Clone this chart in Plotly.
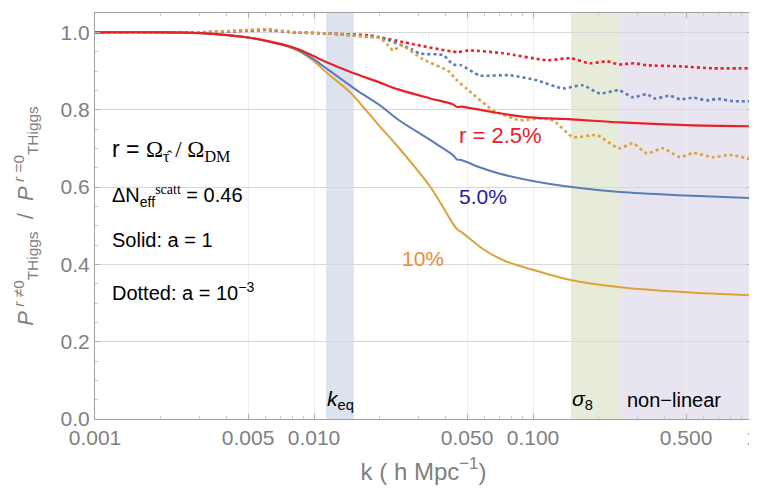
import numpy as np
import plotly.graph_objects as go

# ---------------- data ----------------
k_red = [0.001, 0.002, 0.003, 0.0051, 0.0061, 0.0075, 0.0086, 0.010, 0.0115, 0.0146, 0.020, 0.024, 0.034, 0.043, 0.045, 0.047, 0.068, 0.097, 0.15, 0.25, 0.5, 1.0]
red_solid = [1.0, 1.0, 0.998, 0.986, 0.978, 0.966, 0.955, 0.938, 0.922, 0.898, 0.870, 0.853, 0.829, 0.814, 0.807, 0.808, 0.792, 0.780, 0.775, 0.767, 0.760, 0.757]

k_blue = [0.001, 0.002, 0.003, 0.0051, 0.0061, 0.0075, 0.0086, 0.010, 0.0115, 0.0157, 0.020, 0.024, 0.034, 0.043, 0.045, 0.047, 0.057, 0.070, 0.097, 0.15, 0.25, 0.5, 1.0]
blue_solid = [1.0, 1.0, 0.998, 0.986, 0.977, 0.965, 0.952, 0.930, 0.905, 0.850, 0.811, 0.776, 0.721, 0.683, 0.671, 0.670, 0.651, 0.635, 0.617, 0.600, 0.587, 0.578, 0.571]

k_orange = [0.001, 0.002, 0.003, 0.0051, 0.0061, 0.0075, 0.0086, 0.010, 0.0115, 0.0146, 0.020, 0.024, 0.034, 0.043, 0.045, 0.047, 0.060, 0.075, 0.097, 0.15, 0.25, 0.5, 1.0]
orange_solid = [1.0, 1.0, 0.998, 0.986, 0.977, 0.964, 0.950, 0.925, 0.894, 0.845, 0.756, 0.706, 0.600, 0.506, 0.491, 0.484, 0.437, 0.408, 0.388, 0.359, 0.341, 0.328, 0.320]

k_red_dot = [0.001, 0.003, 0.005, 0.0061, 0.008, 0.0115, 0.018, 0.020, 0.0255, 0.028, 0.045, 0.051, 0.073, 0.116, 0.148, 0.182, 0.218, 0.247, 0.29, 0.33, 0.47, 0.66, 0.98]
red_dotted = [1.0, 1.0, 1.004, 1.006, 1.0, 0.997, 0.992, 0.987, 0.975, 0.970, 0.949, 0.953, 0.946, 0.928, 0.933, 0.920, 0.925, 0.917, 0.920, 0.915, 0.912, 0.907, 0.907]

k_blue_dot = [0.001, 0.003, 0.005, 0.0061, 0.008, 0.0115, 0.018, 0.020, 0.028, 0.0305, 0.039, 0.043, 0.047, 0.057, 0.0785, 0.104, 0.137, 0.169, 0.202, 0.247, 0.286, 0.33, 0.36, 0.42, 0.47, 0.54, 0.62, 0.70, 0.82, 0.98]
blue_dotted = [1.0, 1.0, 1.005, 1.007, 1.0, 0.997, 0.988, 0.987, 0.956, 0.945, 0.941, 0.917, 0.915, 0.889, 0.889, 0.876, 0.855, 0.863, 0.842, 0.850, 0.832, 0.840, 0.829, 0.836, 0.827, 0.831, 0.824, 0.828, 0.822, 0.822]

k_orange_dot = [0.001, 0.003, 0.005, 0.0061, 0.008, 0.0115, 0.018, 0.020, 0.0215, 0.023, 0.025, 0.0315, 0.041, 0.045, 0.050, 0.066, 0.087, 0.111, 0.125, 0.1523, 0.196, 0.247, 0.286, 0.331, 0.392, 0.469, 0.538, 0.664, 0.79, 0.98]
orange_dotted = [1.0, 1.0, 1.006, 1.008, 1.001, 0.997, 0.988, 0.985, 0.970, 0.953, 0.966, 0.930, 0.900, 0.876, 0.853, 0.798, 0.773, 0.778, 0.770, 0.729, 0.734, 0.700, 0.713, 0.687, 0.700, 0.677, 0.688, 0.677, 0.683, 0.672]

# shaded regions (k ranges)
keq_band = [0.01135, 0.0152]
sigma8_band = [0.149, 0.247]
nonlinear_band = [0.247, 1.0]

x_tickvals = [0.001, 0.005, 0.010, 0.050, 0.100, 0.500, 1]
x_ticktext = ["0.001", "0.005", "0.010", "0.050", "0.100", "0.500", "1"]
x_minor_ticks = [m * d for d in (0.001, 0.01, 0.1) for m in range(2, 10)]
y_tickvals = [0.0, 0.2, 0.4, 0.6, 0.8, 1.0]
y_ticktext = ["0.0", "0.2", "0.4", "0.6", "0.8", "1.0"]

RED = "#e8202a"
BLUE = "#5b7db6"
ORANGE = "#dfa23a"

fig = go.Figure()

for x0, x1, col in [(keq_band[0], keq_band[1], "#dde3ee"),
                    (sigma8_band[0], sigma8_band[1], "#e6ecd9"),
                    (nonlinear_band[0], nonlinear_band[1], "#e8e5f0")]:
    fig.add_shape(type="rect", xref="x", yref="paper", x0=x0, x1=x1, y0=0, y1=1,
                  fillcolor=col, line_width=0, layer="below")

def add_line(k, v, col, dash, width, smooth=0.6):
    fig.add_trace(go.Scatter(x=k, y=v, mode="lines",
                             line=dict(color=col, dash=dash, width=width, shape="spline", smoothing=smooth),
                             showlegend=False, hoverinfo="skip"))

add_line(k_red_dot, red_dotted, RED, "dot", 2.6)
add_line(k_blue_dot, blue_dotted, BLUE, "dot", 2.6)
add_line(k_orange_dot, orange_dotted, ORANGE, "dot", 2.6)
add_line(k_orange, orange_solid, ORANGE, "solid", 2, 0.9)
add_line(k_blue, blue_solid, BLUE, "solid", 2, 0.9)
add_line(k_red, red_solid, RED, "solid", 2.2, 0.9)

lg = np.log10
FONT = "Liberation Sans, Arial, sans-serif"

def ann(x, y, text, color="black", size=20, xanchor="left"):
    fig.add_annotation(x=lg(x), y=y, xref="x", yref="y", text=text, showarrow=False,
                       xanchor=xanchor, yanchor="middle", font=dict(family=FONT, size=size, color=color))

ann(0.00117, 0.695, "r = <span style='font-family:Liberation Serif'>Ω<sub>τ̂</sub> / Ω<sub>DM</sub></span>", size=23)
ann(0.00117, 0.578, "ΔN<sub>eff</sub><sup><span style='font-family:Liberation Serif'>scatt</span></sup> = 0.46", size=20)
ann(0.00117, 0.463, "Solid: a = 1", size=20)
ann(0.00117, 0.330, "Dotted: a = 10<sup>−3</sup>", size=20)
ann(0.0449, 0.734, "r = 2.5%", color="#e8202a", size=22)
ann(0.0449, 0.576, "5.0%", color="#1c1ca0", size=21)
ann(0.0247, 0.416, "10%", color="#f08a30", size=21)
ann(0.0132, 0.048, "<i>k</i><sub>eq</sub>", size=21, xanchor="center")
ann(0.169, 0.048, "<i>σ</i><sub>8</sub>", size=21, xanchor="center")
ann(0.262, 0.048, "non−linear", size=20)

# page body has an 8 px margin; size the figure so it fills the window exactly
fig.update_layout(
    width=749, height=484,
    margin=dict(l=87, r=5, t=5, b=73),
    plot_bgcolor="white", paper_bgcolor="white",
    font=dict(family=FONT, color="#808080"),
)
fig.update_xaxes(type="log", range=[-3, 0], tickvals=x_tickvals, ticktext=x_ticktext, automargin=False,
                 ticklabeloverflow="allow",
                 tickfont=dict(size=21, color="#808080"), showline=True, linecolor="#a0a0a0", mirror="ticks",
                 linewidth=1, showgrid=True, gridcolor="#f0f0f0", ticks="inside", ticklen=5, tickcolor="#b0b0b0",
                 minor=dict(ticks="inside", ticklen=3, tickcolor="#c8c8c8", tickvals=x_minor_ticks, showgrid=False),
                 title=dict(text="k ( h Mpc<sup>−1</sup>)", font=dict(size=24, color="#808080"), standoff=14),
                 zeroline=False)
fig.update_yaxes(range=[0, 1.05], tickvals=y_tickvals, ticktext=y_ticktext, automargin=False,
                 tickfont=dict(size=21, color="#808080"), showline=True, linecolor="#a0a0a0", mirror="ticks",
                 linewidth=1, showgrid=True, gridcolor="#d8d8d8", ticks="inside", ticklen=5, tickcolor="#b0b0b0",
                 minor=dict(ticks="inside", ticklen=3, tickcolor="#c8c8c8", dtick=0.05, showgrid=False),
                 title=dict(text="<i>P</i><sup> <i>r</i> ≠0</sup><sub>THiggs</sub>  /  <i>P</i><sup> <i>r</i> =0</sup><sub>THiggs</sub>",
                            font=dict(size=22, color="#808080"), standoff=20),
                 zeroline=False)

fig.write_html("out.html")
